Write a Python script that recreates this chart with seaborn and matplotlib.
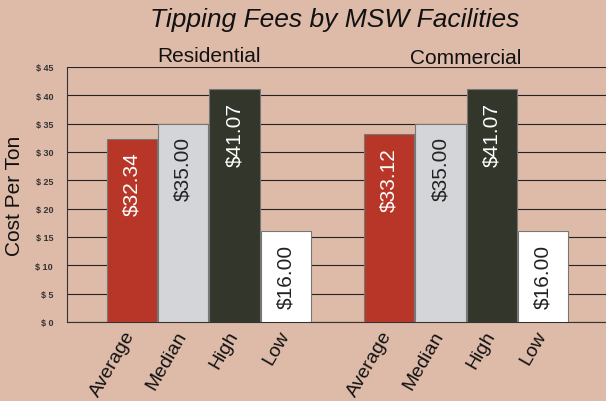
import matplotlib
matplotlib.use("Agg")
import matplotlib.pyplot as plt
import matplotlib.transforms as mtransforms
import seaborn as sns
import pandas as pd

# data
measures = ["Average", "Median", "High", "Low"]
residential = [32.34, 35.00, 41.07, 16.00]
commercial = [33.12, 35.00, 41.07, 16.00]
groups = ["Residential", "Commercial"]
bar_colors = {"Average": "#b83628", "Median": "#d4d5d9", "High": "#33362a", "Low": "#ffffff"}
text_colors = {"Average": "white", "Median": "#222222", "High": "white", "Low": "#222222"}

bg = "#debba9"

sns.set_style("white")
plt.rcParams['font.family'] = ['Liberation Sans', 'DejaVu Sans']

rows = []
for g, vals in zip(groups, [residential, commercial]):
    for m, v in zip(measures, vals):
        rows.append({"slot": f"{g}-{m}", "group": g, "measure": m, "cost": v})
df = pd.DataFrame(rows)
order = [f"Residential-{m}" for m in measures] + ["gap"] + [f"Commercial-{m}" for m in measures]

fig = plt.figure(figsize=(6.06, 4.02), dpi=100, facecolor=bg)
ax = fig.add_axes([67/606, 79/402, 1 - 67/606, 255/402])
ax.set_facecolor(bg)

sns.barplot(data=df, x="slot", y="cost", hue="measure", order=order,
            palette=bar_colors, saturation=1, width=0.98, edgecolor="#777777",
            linewidth=0.8, legend=False, ax=ax, zorder=3)

ax.set_ylim(0, 45)
ax.set_xlim(-1.26, 9.22)
ax.set_yticks(range(0, 50, 5))
ax.set_yticklabels([f"$ {v}" for v in range(0, 50, 5)],
                   fontsize=6.5, fontweight="bold", color="#333333")
ax.yaxis.grid(True, color="#222222", linewidth=0.8)
ax.set_axisbelow(True)
ax.tick_params(axis="y", length=4, color="#333333", pad=6)
ax.tick_params(axis="x", length=0, pad=4)
for s in ["top", "right"]:
    ax.spines[s].set_visible(False)
ax.spines["left"].set_color("#333333")
ax.spines["bottom"].set_color("#333333")

ticks = [i for i, o in enumerate(order) if o != "gap"]
ax.set_xticks(ticks)
ax.set_xticklabels(measures + measures, rotation=60, ha="right",
                   rotation_mode="anchor", fontsize=14, color="#111111")
shift = mtransforms.ScaledTranslation(-8/100, 0, fig.dpi_scale_trans)
for lbl in ax.get_xticklabels():
    lbl.set_transform(lbl.get_transform() + shift)

# value labels inside bars
for i, o in enumerate(order):
    if o == "gap":
        continue
    r = df[df["slot"] == o].iloc[0]
    ax.annotate(f"${r['cost']:.2f}", xy=(i, r["cost"]), xytext=(0, -9),
                textcoords="offset points", rotation=90, ha="center", va="top",
                fontsize=15, color=text_colors[r["measure"]], zorder=4)

ax.set_xlabel("")
ax.set_ylabel("Cost Per Ton", fontsize=15, color="#111111", labelpad=8)

trans = mtransforms.blended_transform_factory(ax.transData, fig.transFigure)
ax.text(1.5, 1 - 57/402, "Residential", transform=trans, ha="center", va="center",
        fontsize=15, color="#111111")
ax.text(6.5, 1 - 58/402, "Commercial", transform=trans, ha="center", va="center",
        fontsize=15, color="#111111")
fig.text(335/606, 1 - 20/402, "Tipping Fees by MSW Facilities", ha="center", va="center",
         fontsize=19, fontstyle="italic", color="#111111")

fig.savefig("out.png", dpi=100, facecolor=bg)
